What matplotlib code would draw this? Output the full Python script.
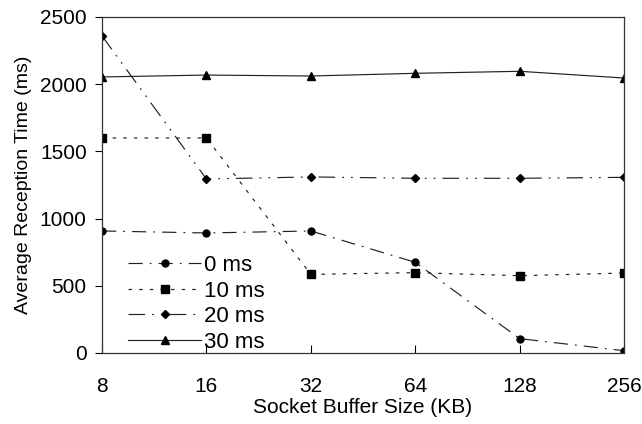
import matplotlib
matplotlib.use("Agg")
import matplotlib.pyplot as plt

plt.rcParams['font.family'] = ['Liberation Sans', 'DejaVu Sans']

# Data
buffer_sizes = [8, 16, 32, 64, 128, 256]
series_names = ['0 ms', '10 ms', '20 ms', '30 ms']
delay_0 = [908, 893, 908, 675, 107, 17]
delay_10 = [1600, 1600, 585, 598, 575, 595]
delay_20 = [2359, 1295, 1310, 1300, 1300, 1307]
delay_30 = [2054, 2068, 2061, 2081, 2096, 2046]

fig = plt.figure(figsize=(6.42, 4.24), dpi=100)
ax = fig.add_axes([102 / 642, 1 - 353 / 424, (624 - 102) / 642, (353 - 17) / 424])

styles = [
    dict(marker='o', markersize=5, linestyle=(0, (12, 6, 1.5, 6))),
    dict(marker='s', markersize=6, linestyle=(0, (3, 6))),
    dict(marker='D', markersize=4.5, linestyle=(0, (14, 6, 1.5, 6, 1.5, 6))),
    dict(marker='^', markersize=6, linestyle='-'),
]
for name, vals, st in zip(series_names, [delay_0, delay_10, delay_20, delay_30], styles):
    ax.plot(buffer_sizes, vals, color='#222222', linewidth=0.85,
            markerfacecolor='black', markeredgecolor='black', label=name, **st)

ax.set_xscale('log', base=2)
ax.set_xlim(8, 256)
ax.set_ylim(0, 2500)
ax.set_xticks(buffer_sizes)
ax.set_xticklabels([str(b) for b in buffer_sizes])
ax.minorticks_off()
ax.set_yticks([0, 500, 1000, 1500, 2000, 2500])

ax.tick_params(axis='x', direction='in', length=6, labelsize=15, pad=17, width=0.8)
ax.tick_params(axis='y', direction='out', length=5, labelsize=15, pad=6, width=0.8)
for sp in ax.spines.values():
    sp.set_linewidth(0.9)
    sp.set_color('#333333')

ax.set_xlabel('Socket Buffer Size (KB)', fontsize=15, labelpad=2)
ax.set_ylabel('Average Reception Time (ms)', fontsize=14, labelpad=6)

ax.legend(loc='lower left', bbox_to_anchor=(0.02, -0.045), frameon=False, fontsize=16,
          handlelength=3.3, handletextpad=0.1, labelspacing=0.2, borderaxespad=0.3)

fig.savefig('out.png', dpi=100)
